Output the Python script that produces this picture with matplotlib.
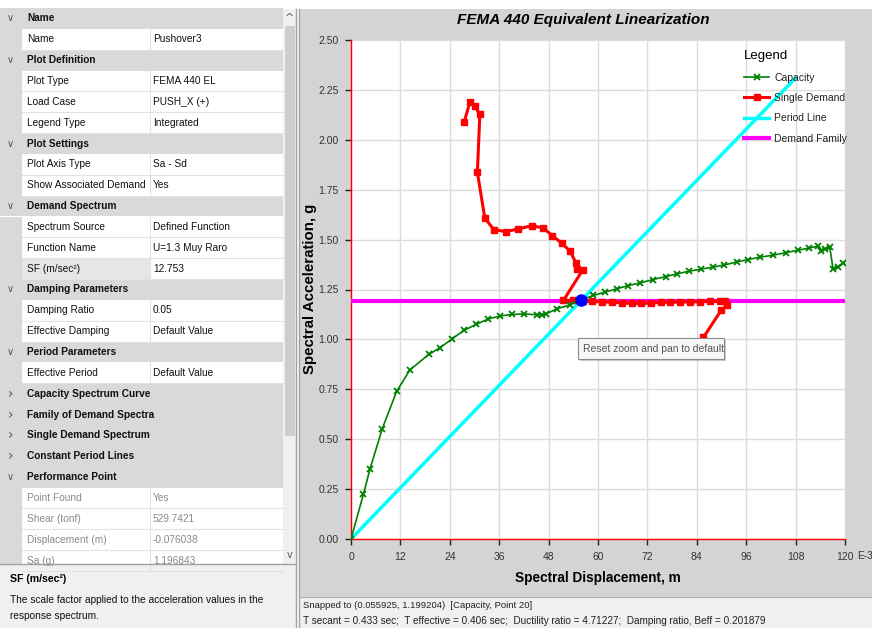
import matplotlib
matplotlib.use("Agg")
import matplotlib.pyplot as plt
from matplotlib import font_manager
from matplotlib.patches import Rectangle

# capacity curve (Sd in E-3 m, Sa in g)
cap_sd = [0, 3.0, 4.6, 7.6, 11.1, 14.3, 18.9, 21.6, 24.6, 27.4, 30.4, 33.4, 36.2, 39.0,
          42.0, 45.3, 46.3, 47.4, 50.0, 53.2, 55.9, 58.9, 61.7, 64.5, 67.4, 70.2, 73.4,
          76.5, 79.1, 82.2, 85.0, 87.9, 90.7, 93.7, 96.5, 99.3, 102.6, 105.7, 108.7,
          111.3, 113.5, 114.2, 115.1, 116.3, 117.1, 118.2, 119.6, 121.0]
cap_sa = [0, 0.223, 0.35, 0.553, 0.74, 0.847, 0.925, 0.958, 1.003, 1.045, 1.075, 1.103,
          1.117, 1.125, 1.128, 1.123, 1.123, 1.128, 1.153, 1.173, 1.199, 1.22, 1.237,
          1.253, 1.27, 1.283, 1.30, 1.315, 1.328, 1.342, 1.352, 1.362, 1.373, 1.388,
          1.40, 1.412, 1.422, 1.435, 1.447, 1.458, 1.467, 1.445, 1.453, 1.462, 1.353,
          1.362, 1.382, 1.39]

# single demand spectrum
dem_sd = [27.5, 28.9, 30.0, 31.3, 30.7, 32.5, 34.7, 37.6, 40.6, 43.9, 46.7, 48.9, 51.2,
          53.2, 54.7, 55.0, 56.3, 51.6, 54.0, 56.3, 58.6, 61.0, 63.4, 65.8, 68.2, 70.5,
          72.8, 75.2, 77.6, 80.0, 82.4, 84.8, 87.2, 89.6, 90.8, 91.3, 89.9, 85.6, 84.0]
dem_sa = [2.09, 2.19, 2.17, 2.128, 1.837, 1.608, 1.55, 1.54, 1.553, 1.57, 1.558, 1.52,
          1.482, 1.442, 1.382, 1.353, 1.348, 1.195, 1.195, 1.193, 1.19, 1.188, 1.186,
          1.183, 1.18, 1.18, 1.182, 1.185, 1.186, 1.188, 1.188, 1.189, 1.19, 1.19, 1.19,
          1.17, 1.145, 1.01, 0.96]

period_sd = [0, 108.0]
period_sa = [0, 2.31]
family_sd = [0, 120]
family_sa = [1.193, 1.193]
perf_sd, perf_sa = 55.925, 1.199204

x_ticks = [0, 12, 24, 36, 48, 60, 72, 84, 96, 108, 120]
y_ticks = [0, 0.25, 0.5, 0.75, 1.0, 1.25, 1.5, 1.75, 2.0, 2.25, 2.5]

# property grid rows: (kind, name, value)  H = expanded header, C = collapsed header
rows = [("H", "Name", ""), ("P", "Name", "Pushover3"),
        ("H", "Plot Definition", ""), ("P", "Plot Type", "FEMA 440 EL"),
        ("P", "Load Case", "PUSH_X (+)"), ("P", "Legend Type", "Integrated"),
        ("H", "Plot Settings", ""), ("P", "Plot Axis Type", "Sa - Sd"),
        ("P", "Show Associated Demand", "Yes"),
        ("H", "Demand Spectrum", ""), ("P", "Spectrum Source", "Defined Function"),
        ("P", "Function Name", "U=1.3 Muy Raro"), ("S", "SF (m/sec²)", "12.753"),
        ("H", "Damping Parameters", ""), ("P", "Damping Ratio", "0.05"),
        ("P", "Effective Damping", "Default Value"),
        ("H", "Period Parameters", ""), ("P", "Effective Period", "Default Value"),
        ("C", "Capacity Spectrum Curve", ""), ("C", "Family of Demand Spectra", ""),
        ("C", "Single Demand Spectrum", ""), ("C", "Constant Period Lines", ""),
        ("H", "Performance Point", ""), ("R", "Point Found", "Yes"),
        ("R", "Shear (tonf)", "529.7421"), ("R", "Displacement (m)", "-0.076038"),
        ("R", "Sa (g)", "1.196843")]

names = {f.name for f in font_manager.fontManager.ttflist}
def pick(*cands):
    for c in cands:
        if c in names:
            return c
    return "DejaVu Sans"
ui = pick("Liberation Sans Narrow", "Liberation Sans")
arial = pick("Liberation Sans", "DejaVu Sans")
fs_ui = 7.3

W, H = 872, 628
fig = plt.figure(figsize=(W / 100, H / 100), dpi=100)

# background / panels in pixel coordinates
bg = fig.add_axes([0, 0, 1, 1], zorder=-1)
bg.set_xlim(0, W)
bg.set_ylim(H, 0)
bg.axis("off")
bg.add_patch(Rectangle((299, 9), 573, 588, fc="#d4d4d4", ec="none"))
bg.add_patch(Rectangle((299, 597), 573, 31, fc="#f0f0f0", ec="none"))
bg.plot([299, 872], [597, 597], color="#b0b0b0", lw=0.8)
bg.plot([296, 296], [9, 628], color="#a0a0a0", lw=1)
bg.plot([299, 299], [9, 628], color="#a0a0a0", lw=1)

rh = 20.85
for i, (kind, name, val) in enumerate(rows):
    top = 8 + i * rh
    cy = top + rh / 2
    if kind in "HC":
        bg.add_patch(Rectangle((0, top), 283, rh, fc="#d9d9d9", ec="none"))
        bg.text(10, cy, "∨" if kind == "H" else "›", fontsize=7 if kind == "H" else 10,
                color="#555555", ha="center", va="center", family="DejaVu Sans")
        bg.text(27, cy, name, fontsize=fs_ui, fontweight="bold", family=ui,
                color="#111111", va="center")
    else:
        bg.add_patch(Rectangle((0, top), 22, rh, fc="#d9d9d9", ec="none"))
        bg.add_patch(Rectangle((22, top), 128, rh, fc="#e6e6e6" if kind == "S" else "white",
                               ec="none"))
        bg.add_patch(Rectangle((150, top), 133, rh, fc="white", ec="none"))
        bg.plot([22, 283], [top + rh, top + rh], color="#e2e2e2", lw=0.8)
        bg.plot([150, 150], [top, top + rh], color="#e2e2e2", lw=0.8)
        tc = "#8a8a8a" if kind == "R" else "#111111"
        bg.text(27, cy, name, fontsize=fs_ui, family=ui, color=tc, va="center")
        bg.text(153, cy, val, fontsize=fs_ui, family=ui, color=tc, va="center")

# scrollbar
bg.add_patch(Rectangle((283, 9), 13, 556, fc="#f0f0f0", ec="none"))
bg.add_patch(Rectangle((284.5, 26), 10, 410, fc="#cdcdcd", ec="none"))
bg.text(289.5, 18, "^", fontsize=8, ha="center", va="center", color="#555555")
bg.text(289.5, 555, "v", fontsize=7, ha="center", va="center", color="#555555")

# description box
bg.add_patch(Rectangle((0, 564), 296, 64, fc="#f0f0f0", ec="none"))
bg.plot([0, 296], [564, 564], color="#a0a0a0", lw=1)
bg.text(10, 579, "SF (m/sec²)", fontsize=7.6, fontweight="bold", family=ui, va="center")
bg.text(10, 600, "The scale factor applied to the acceleration values in the",
        fontsize=fs_ui, family=ui, va="center", color="#111111")
bg.text(10, 616, "response spectrum.", fontsize=fs_ui, family=ui, va="center",
        color="#111111")

# status bar
bg.text(303, 605, "Snapped to (0.055925, 1.199204)  [Capacity, Point 20]",
        fontsize=6.8, family=ui, va="center", color="#222222")
bg.text(303, 621, "T secant = 0.433 sec;  T effective = 0.406 sec;  Ductility ratio = 4.71227;"
        "  Damping ratio, Beff = 0.201879", fontsize=7.2, family=ui, va="center",
        color="#222222")

# titles
bg.text(583, 20, "FEMA 440 Equivalent Linearization", fontsize=11, fontweight="bold",
        fontstyle="italic", family=arial, ha="center", va="center")
bg.text(598, 578, "Spectral Displacement, m", fontsize=9.8, fontweight="bold",
        family=arial, ha="center", va="center")
bg.text(310, 289, "Spectral Acceleration, g", fontsize=10.8, fontweight="bold",
        family=arial, ha="center", va="center", rotation=90)
bg.text(857, 556, "E-3", fontsize=7.2, family=ui, color="#333333", va="center")

# chart
ax = fig.add_axes([351 / W, 1 - 539 / H, 494 / W, 499 / H])
ax.set_facecolor("white")
ax.plot(period_sd, period_sa, color="#00ffff", lw=2.5, label="Period Line", zorder=2)
ax.plot(family_sd, family_sa, color="#ff00ff", lw=3, label="Demand Family", zorder=3)
ax.plot(dem_sd, dem_sa, color="#ff0000", lw=2.2, marker="s", ms=4, label="Single Demand",
        zorder=4)
ax.plot(cap_sd, cap_sa, color="#008000", lw=1.2, marker="x", ms=5, mew=1.3,
        label="Capacity", zorder=5)
ax.plot([perf_sd], [perf_sa], "o", color="#0000ff", ms=8, zorder=6)

ax.set_xlim(0, 120)
ax.set_ylim(0, 2.5)
ax.set_xticks(x_ticks)
ax.set_xticklabels([str(t) for t in x_ticks])
ax.set_yticks(y_ticks)
ax.set_yticklabels([f"{t:.2f}" for t in y_ticks])
ax.grid(True, color="#dcdcdc", lw=1)
ax.set_axisbelow(True)
for s in ("top", "right"):
    ax.spines[s].set_visible(False)
for s in ("left", "bottom"):
    ax.spines[s].set_color("#ff0000")
    ax.spines[s].set_linewidth(1)
ax.tick_params(direction="out", length=4, width=1, colors="#222222", labelsize=7.5,
               pad=5)
for lab in ax.get_xticklabels() + ax.get_yticklabels():
    lab.set_family(ui)
    lab.set_color("#333333")

handles, labels = ax.get_legend_handles_labels()
order = [3, 2, 0, 1]
leg = ax.legend([handles[i] for i in order], [labels[i] for i in order],
                title="Legend", loc="upper left", bbox_to_anchor=(739 / W, 1 - 45 / H),
                bbox_transform=fig.transFigure, frameon=False, fontsize=7.5,
                title_fontsize=9.5, handlelength=2.4, handletextpad=0.5,
                labelspacing=1.0, borderpad=0, alignment="left")
for t in leg.get_texts():
    t.set_family(ui)
    t.set_color("#222222")
leg.get_title().set_family(ui)

# tooltip overlay
ov = fig.add_axes([0, 0, 1, 1], zorder=10)
ov.set_xlim(0, W)
ov.set_ylim(H, 0)
ov.axis("off")
ov.patch.set_alpha(0)
ov.add_patch(Rectangle((580, 340), 146, 21, fc="#9a9a9a", ec="none", alpha=0.5))
ov.add_patch(Rectangle((578, 338), 146, 21, fc="#f7f7f7", ec="#8a8a8a", lw=0.8))
ov.text(583, 349, "Reset zoom and pan to default", fontsize=7.5, family=ui,
        color="#555555", va="center")

fig.savefig("out.png", dpi=100)
